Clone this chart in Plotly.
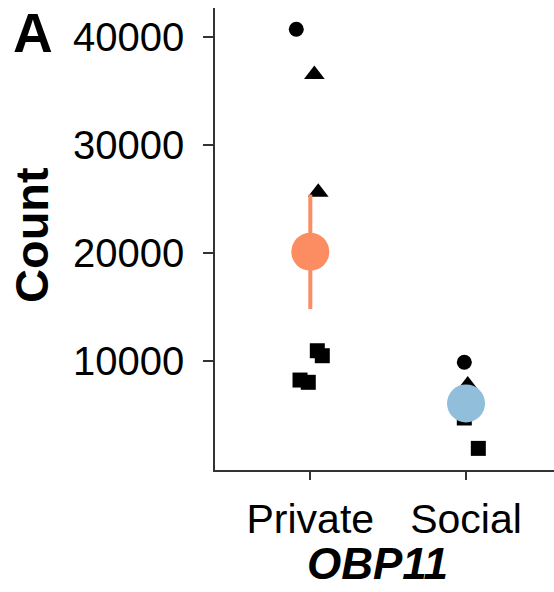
import plotly.graph_objects as go

# Data
categories = ["Private", "Social"]
cat_pos = [1, 2]

# individual observations: x (category position with jitter), y (count), shape
private_x = [0.910, 1.026, 1.051, 1.045, 1.077, 0.934, 0.987]
private_y = [40680, 36500, 25600, 10950, 10490, 8240, 8030]
private_sym = ["circle", "triangle-up", "triangle-up", "square", "square", "square", "square"]

social_x = [1.989, 2.011, 1.989, 2.079]
social_y = [9880, 7780, 4730, 1920]
social_sym = ["circle", "triangle-up", "square", "square"]

mean_vals = [20100, 6080]
se_vals = [5300, 1700]
mean_colors = ["#FC8D62", "#91BFDB"]

y_ticks = [10000, 20000, 30000, 40000]

FONT = "Liberation Sans, Arial, sans-serif"

# plot area geometry (pixels)
L, T, W, H = 215, 8, 339, 462

fig = go.Figure()

for xs, ys, syms in [(private_x, private_y, private_sym), (social_x, social_y, social_sym)]:
    sizes = [18 if s == "triangle-up" else 15 for s in syms]
    fig.add_trace(go.Scatter(
        x=xs, y=ys, mode="markers",
        marker=dict(color="black", symbol=syms, size=sizes, opacity=1, line=dict(width=0)),
        showlegend=False, hoverinfo="skip"))

for i in range(2):
    fig.add_trace(go.Scatter(
        x=[cat_pos[i]], y=[mean_vals[i]], mode="markers",
        marker=dict(color=mean_colors[i], size=38, opacity=1, line=dict(width=0)),
        error_y=dict(type="data", array=[se_vals[i]], color=mean_colors[i],
                     thickness=4, width=0),
        showlegend=False, hoverinfo="skip"))

fig.update_layout(
    width=554, height=592,
    margin=dict(l=L, r=554 - L - W, t=T, b=592 - T - H),
    plot_bgcolor="white", paper_bgcolor="white",
    font=dict(family=FONT, color="black"),
    xaxis=dict(
        range=[0.388, 2.565], tickmode="array", tickvals=cat_pos, ticktext=categories,
        showgrid=False, zeroline=False, showline=True, linecolor="#333333", linewidth=1.5,
        ticks="outside", ticklen=8, tickwidth=1.5, tickcolor="#333333",
        ticklabelstandoff=4,
        tickfont=dict(size=41, family=FONT, color="black"),
    ),
    yaxis=dict(
        range=[-80, 42650], tickmode="array", tickvals=y_ticks,
        ticktext=[str(v) for v in y_ticks],
        showgrid=False, zeroline=False, showline=True, linecolor="#333333", linewidth=1.5,
        ticks="outside", ticklen=10, tickwidth=1.5, tickcolor="#333333",
        ticklabelstandoff=11,
        tickfont=dict(size=40, family=FONT, color="black"),
    ),
    annotations=[
        dict(text="<b>A</b>", xref="paper", yref="paper", x=-L / W, y=1 + T / H,
             xanchor="center", yanchor="middle", xshift=32.5, yshift=-33, showarrow=False,
             font=dict(size=55, family=FONT, color="black")),
        dict(text="<b>Count</b>", xref="paper", yref="paper", x=-L / W, y=1 + T / H,
             xanchor="center", yanchor="middle", xshift=31.5, yshift=-235.5, showarrow=False,
             textangle=-90, font=dict(size=47, family=FONT, color="black")),
        dict(text="<b><i>OBP11</i></b>", xref="paper", yref="paper", x=(377 - L) / W, y=1 + T / H,
             xanchor="center", yanchor="middle", yshift=-(563 - 0), showarrow=False,
             font=dict(size=44, family=FONT, color="black")),
    ],
)

fig.write_html("out.html", config={"displayModeBar": False},
               post_script="document.body.style.margin='0';document.body.style.padding='0';")
